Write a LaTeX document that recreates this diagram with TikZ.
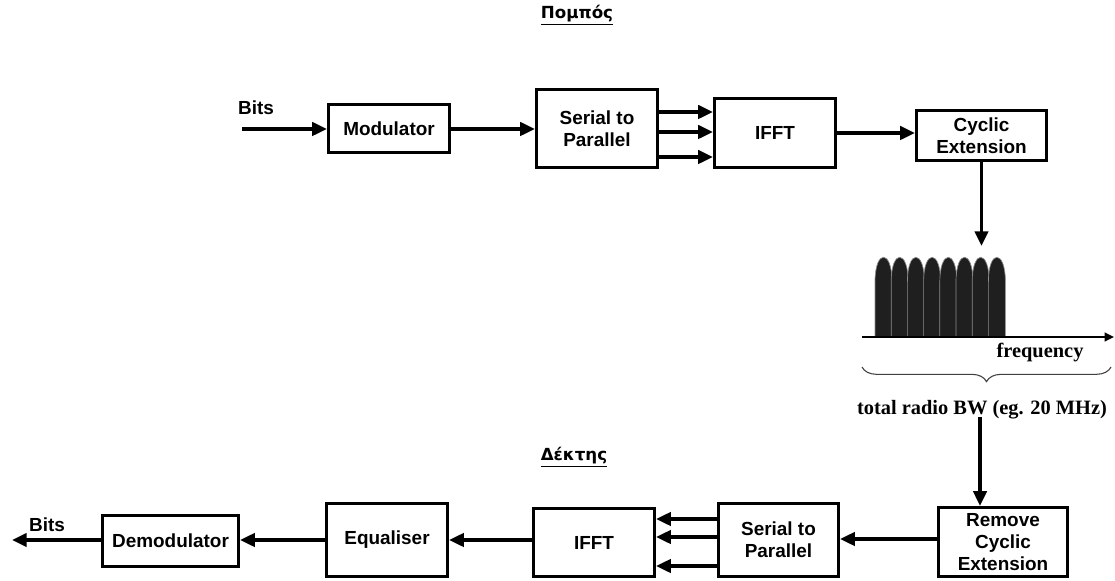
\documentclass[tikz,border=0pt]{standalone}
\usepackage{fontspec}
\setmainfont{Liberation Sans}
\newfontfamily\serifb{Liberation Serif}
\newfontfamily\greekf{DejaVu Sans}
\usetikzlibrary{arrows.meta,decorations.pathreplacing}
\begin{document}
\begin{tikzpicture}[x=0.75pt,y=-0.75pt,
  blk/.style={draw, line width=2.5pt, fill=white, font=\fontsize{14.2}{16.5}\selectfont\bfseries, align=center, inner sep=0pt},
  conn/.style={line width=2.4pt, -{Triangle[length=11pt,width=10pt]}},
  lbl/.style={font=\fontsize{14.2}{16.5}\selectfont\bfseries, inner sep=0pt},
  ttl/.style={font=\greekf\fontsize{12.5}{15}\selectfont\bfseries, inner sep=0pt},
  spec/.style={font=\serifb\fontsize{15.3}{18}\selectfont\bfseries, inner sep=0pt},
  hump/.style={fill=black!88, draw=black!45, line width=0.5pt}
]
\useasboundingbox[fill=white] (0,0) rectangle (1115,581);

% titles
\node[ttl] (tx) at (577,15) {\underline{Πομπός}};
\node[ttl] (rx) at (574,457) {\underline{Δέκτης}};

% transmitter
\node[lbl] (bitsin) at (256,108) {Bits};
\coordinate (src) at (242,129);
\node[blk, minimum width=90.75pt, minimum height=36pt] (mod) at (389,128.5) {Modulator};
\node[blk, minimum width=90.75pt, minimum height=58.5pt] (sp1) at (597,128.5) {Serial to\\Parallel};
\node[blk, minimum width=90.75pt, minimum height=51.75pt] (ifft1) at (775,133) {IFFT};
\node[blk, minimum width=97.5pt, minimum height=37.5pt] (cyc) at (981.5,135.5) {Cyclic\\Extension};

\draw[conn] (src) -- (src -| mod.west);
\draw[conn] (mod.east |- src) -- (sp1.west |- src);
\coordinate (ta) at (0,112);
\coordinate (tb) at (0,132);
\coordinate (tc) at (0,157);
\draw[conn] (sp1.east |- ta) -- (ifft1.west |- ta);
\draw[conn] (sp1.east |- tb) -- (ifft1.west |- tb);
\draw[conn] (sp1.east |- tc) -- (ifft1.west |- tc);
\draw[conn] (ifft1.east) -- (ifft1.east -| cyc.west);

% spectrum
\coordinate (stop) at (981.5,246);
\draw[conn] (cyc.south) -- (stop);
\foreach \i in {0,...,7} {
  \pgfmathsetmacro{\xa}{875+\i*16.2}
  \pgfmathsetmacro{\xb}{\xa+17}
  \path[hump] (\xa,337) -- (\xa,282) .. controls (\xa,249) and (\xb,249) .. (\xb,282) -- (\xb,337) -- cycle;
}
\coordinate (ax0) at (862,337);
\coordinate (ax1) at (1114,337);
\draw[line width=1.6pt, -{Triangle[length=7pt,width=6.5pt]}] (ax0) -- (ax1);
\node[spec] (freq) at (1040,353) {frequency};
\coordinate (br0) at (862,367);
\coordinate (br1) at (1111,367);
\draw[line width=0.8pt, black!75, decorate, decoration={brace, mirror, amplitude=11pt}] (br0) -- (br1);
\node[spec] (bw) at (982,410) {total radio BW (eg. 20 MHz)};

% receiver
\node[blk, minimum width=96.75pt, minimum height=51.75pt] (rem) at (1003,542) {Remove\\Cyclic\\Extension};
\node[blk, minimum width=90pt, minimum height=54.75pt] (sp2) at (778.5,540) {Serial to\\Parallel};
\node[blk, minimum width=90.75pt, minimum height=51pt] (ifft2) at (594,542.5) {IFFT};
\node[blk, minimum width=90.75pt, minimum height=54.75pt] (eq) at (387,540) {Equaliser};
\node[blk, minimum width=102pt, minimum height=38.25pt] (dem) at (170.5,541) {Demodulator};
\node[lbl] (bitsout) at (47,525) {Bits};
\coordinate (snk) at (12,540);

\coordinate (sbot) at (980,417);
\draw[conn] (sbot) -- (sbot |- rem.north);
\coordinate (rl) at (0,539);
\draw[conn] (rem.west |- rl) -- (sp2.east |- rl);
\coordinate (ra) at (0,519);
\coordinate (rb) at (0,537);
\coordinate (rc) at (0,566);
\draw[conn] (sp2.west |- ra) -- (ifft2.east |- ra);
\draw[conn] (sp2.west |- rb) -- (ifft2.east |- rb);
\draw[conn] (sp2.west |- rc) -- (ifft2.east |- rc);
\draw[conn] (ifft2.west |- snk) -- (eq.east |- snk);
\draw[conn] (eq.west |- snk) -- (dem.east |- snk);
\draw[conn] (dem.west |- snk) -- (snk);
\end{tikzpicture}
\end{document}
